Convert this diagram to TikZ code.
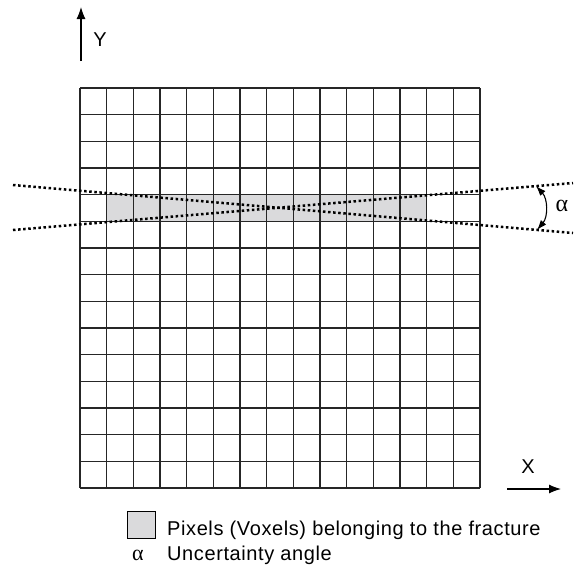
\documentclass[tikz,border=0pt]{standalone}
\usepackage{fontspec}
\setmainfont{Liberation Sans}
\newfontfamily\greekfont{Liberation Serif}
\usetikzlibrary{arrows.meta}
\definecolor{fracgray}{RGB}{218, 218, 220}

\begin{document}
\begin{tikzpicture}[x=1pt, y=-1pt,
        gridline/.style={line width=1.25pt, black!85},
        fracline/.style={line width=2.5pt, dash pattern=on 2.5pt off 2.6pt},
        axisarrow/.style={line width=1.1pt, -{Latex[length=12pt, width=9pt]}},
        lbl/.style={font=\fontsize{20}{23}\selectfont\addfontfeatures{LetterSpace=3}, inner sep=0pt}
    ]
    \useasboundingbox (0,0) rectangle (577,568);
    % fracture pixels
    \fill[fracgray] (106.67,194.67) rectangle (426.67,221.33);
    % 15 x 15 grid
    \foreach \i in {0,...,15} {
        \draw[gridline] (80+\i*26.667,88) -- (80+\i*26.667,488);
        \draw[gridline] (80,88+\i*26.667) -- (480,88+\i*26.667);
    }
    % uncertainty lines
    \coordinate (ua) at (13,185);
    \coordinate (ub) at (573,233);
    \coordinate (la) at (13,230);
    \coordinate (lb) at (573,183);
    \draw[fracline] (ua) -- (ub);
    \draw[fracline] (la) -- (lb);
    \coordinate (arctop) at (536,186);
    \coordinate (arcbot) at (537,230);
    \draw[line width=1.1pt, {Latex[length=10pt, width=7pt]}-{Latex[length=10pt, width=7pt]}]
        (arctop) .. controls (548,199) and (548,217) .. (arcbot);
    \node[inner sep=0pt, font=\fontsize{24}{26}\selectfont\greekfont] (alpha) at (562,206) {α};
    % axes
    \coordinate (yfoot) at (81,61);
    \coordinate (yhead) at (81,7);
    \draw[axisarrow] (yfoot) -- (yhead);
    \node[lbl] (ylbl) at (100,40) {Y};
    \coordinate (xfoot) at (507,489);
    \coordinate (xhead) at (561,489);
    \draw[axisarrow] (xfoot) -- (xhead);
    \node[lbl] (xlbl) at (528,467) {X};
    % legend
    \draw[line width=1pt, fill=fracgray] (127,511) rectangle (155,538);
    \node[lbl, anchor=base west] (leg1) at (167,535)
        {Pixels (Voxels) belonging to the fracture};
    \node[inner sep=0pt, font=\fontsize{22}{24}\selectfont\greekfont, anchor=base] (legsym) at (138,560) {α};
    \node[lbl, anchor=base west] (leg2) at (167,560) {Uncertainty angle};
\end{tikzpicture}
\end{document}
